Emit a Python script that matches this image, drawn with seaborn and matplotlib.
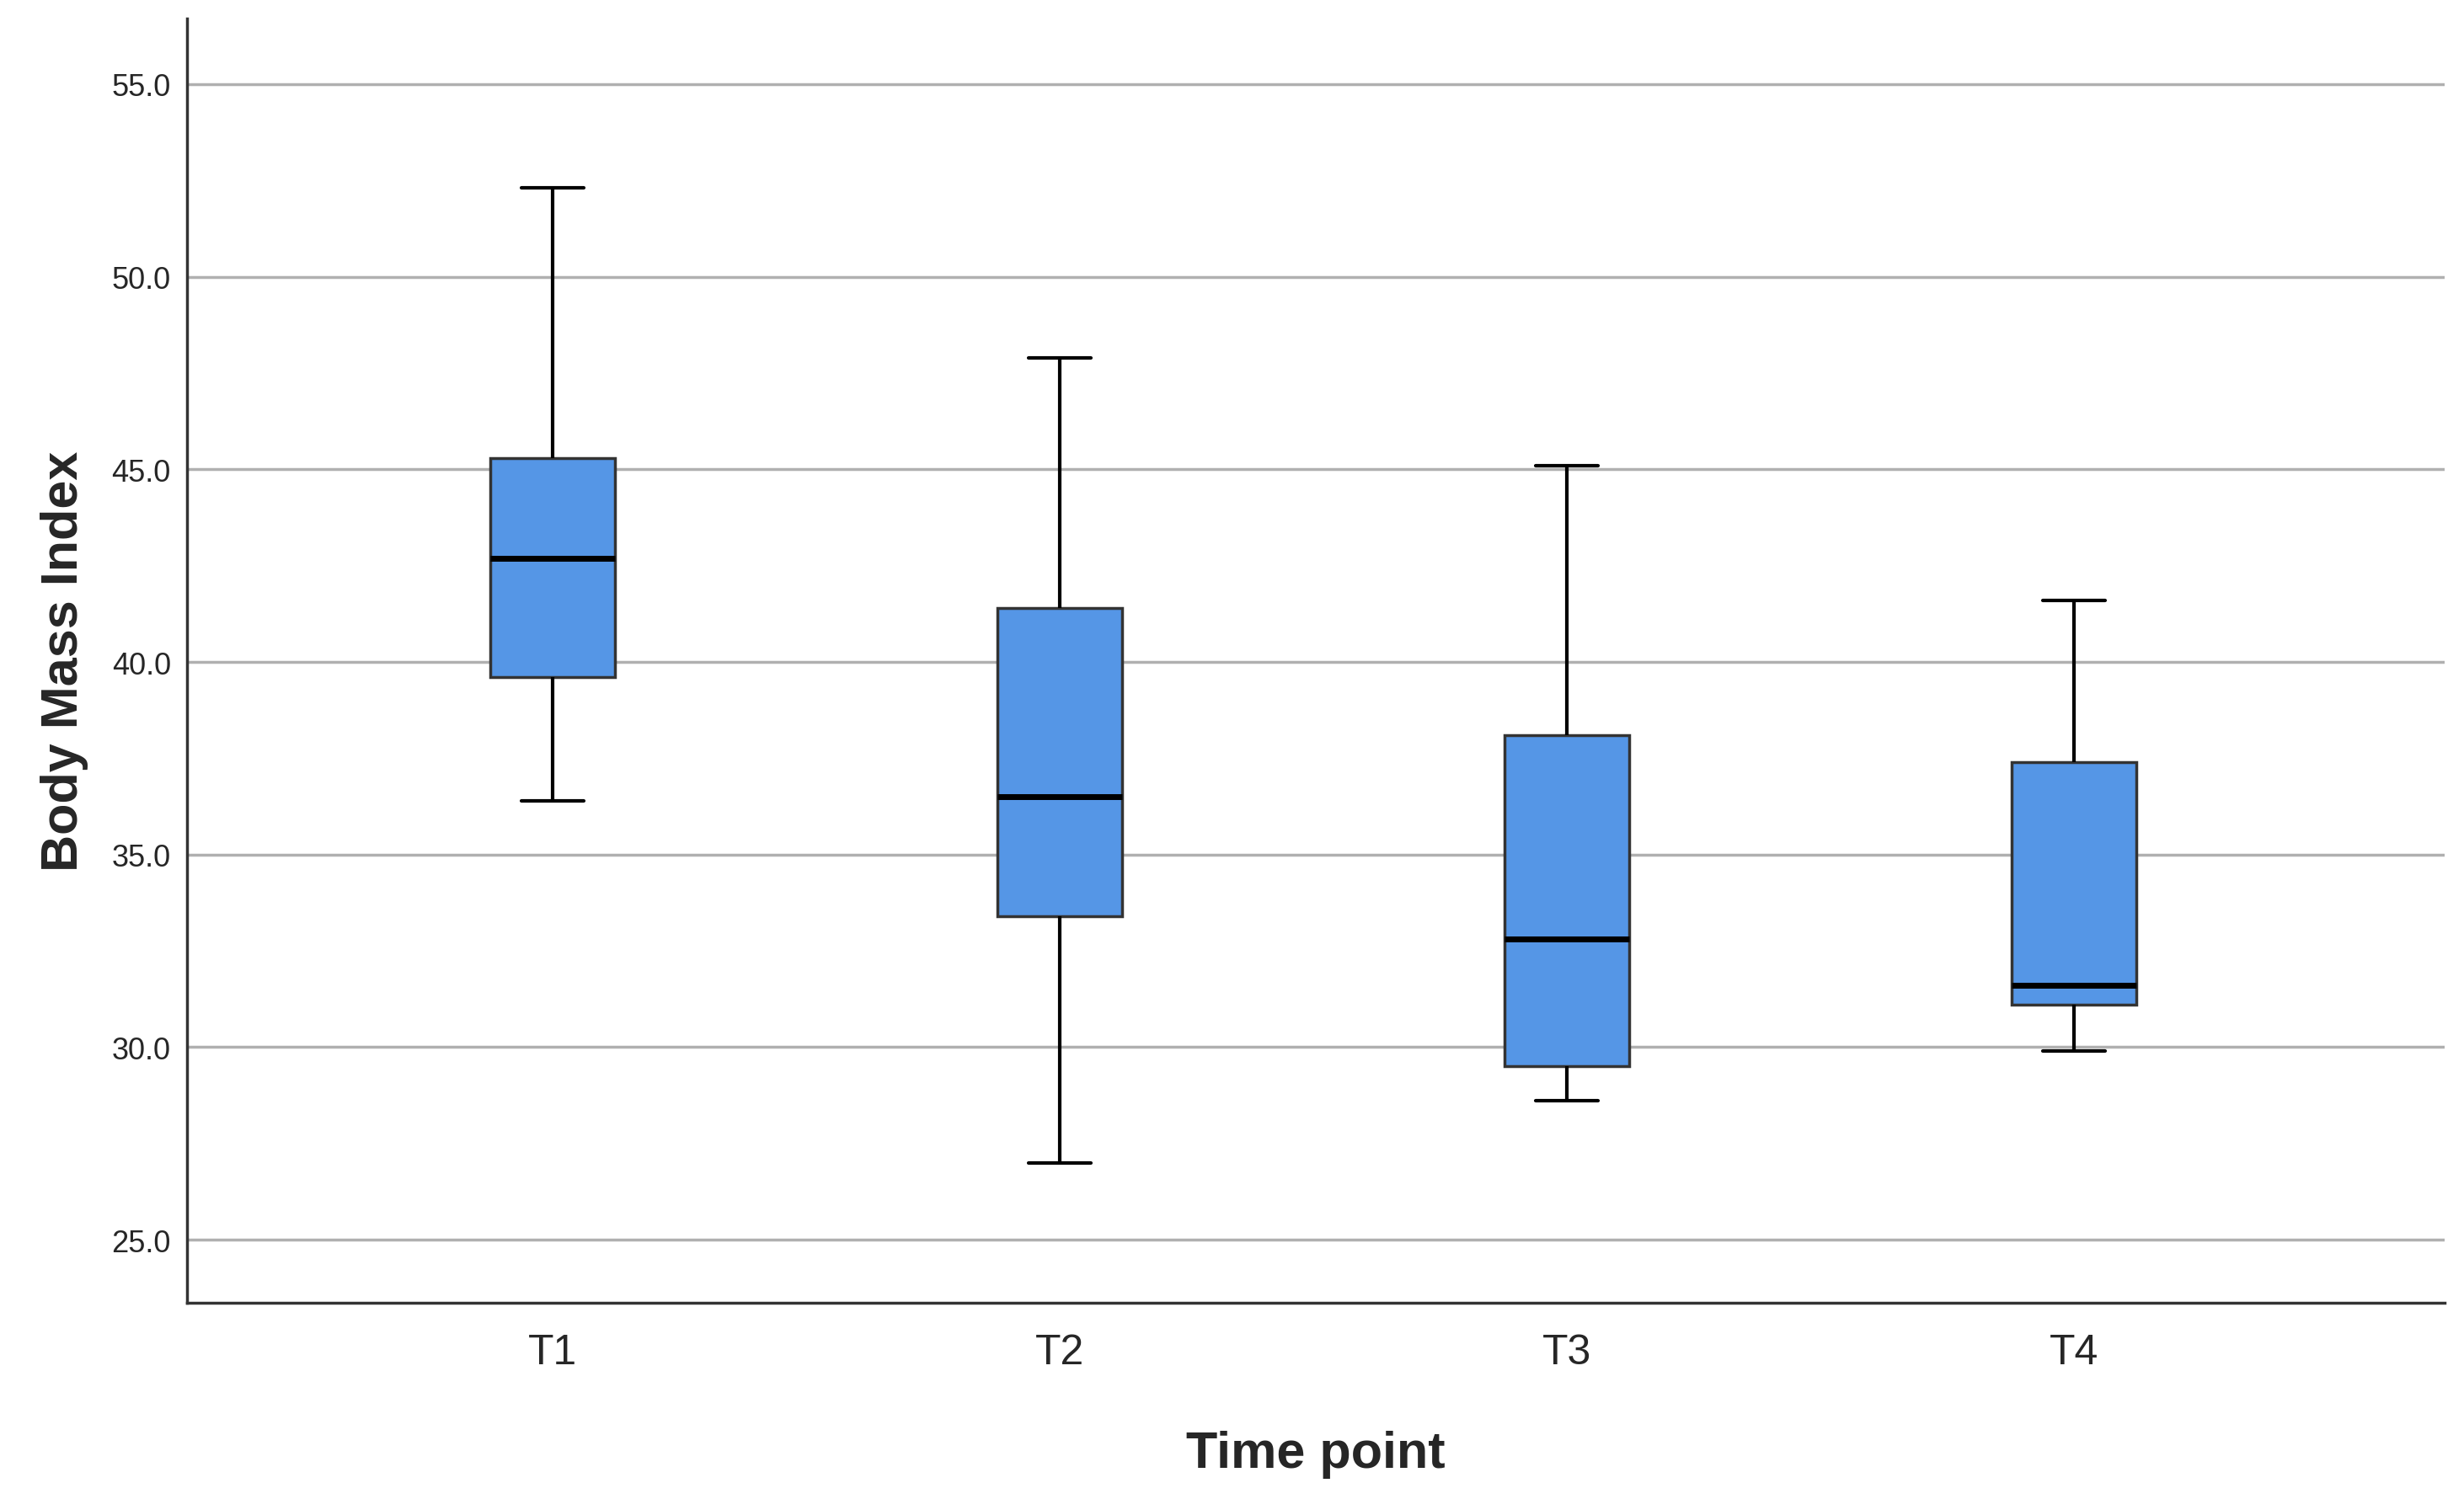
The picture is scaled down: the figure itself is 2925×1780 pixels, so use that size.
import numpy as np
import pandas as pd
import matplotlib
matplotlib.use("Agg")
import matplotlib.pyplot as plt
import seaborn as sns
from matplotlib.ticker import FormatStrFormatter

# five-number summaries
time_points = ["T1", "T2", "T3", "T4"]
bmi_min = [36.4, 27.0, 28.6, 29.9]
bmi_q1 = [39.6, 33.4, 29.5, 31.1]
bmi_median = [42.7, 36.5, 32.8, 31.6]
bmi_q3 = [45.3, 41.4, 38.1, 37.4]
bmi_max = [52.3, 47.9, 45.1, 41.6]

rows = []
for i, t in enumerate(time_points):
    for v in (bmi_min[i], bmi_q1[i], bmi_median[i], bmi_q3[i], bmi_max[i]):
        rows.append({"Time point": t, "Body Mass Index": v})
df = pd.DataFrame(rows)

sns.set_theme(style="white")
plt.rcParams["font.family"] = ["Liberation Sans", "DejaVu Sans"]

fig = plt.figure(figsize=(29.25, 17.81), dpi=100)
ax = fig.add_axes([0.076, 0.131, 0.916, 0.856])

ax.yaxis.grid(True, color="#b0b0b0", lw=2.5)
ax.set_axisbelow(True)

sns.boxplot(data=df, x="Time point", y="Body Mass Index", ax=ax,
            whis=(0, 100), width=0.245, color="#5596E6", saturation=1,
            linecolor="#222222", linewidth=2.5,
            medianprops=dict(color="black", lw=5),
            whiskerprops=dict(color="black", lw=3),
            capprops=dict(color="black", lw=3),
            boxprops=dict(edgecolor="#333333", lw=2.5))

ax.set_xlim(-0.72, 3.73)
ax.set_ylim(23.37, 56.7)
ax.set_yticks([25, 30, 35, 40, 45, 50, 55])
ax.yaxis.set_major_formatter(FormatStrFormatter("%.1f"))
ax.tick_params(axis="y", labelsize=26, left=False, pad=8)
ax.tick_params(axis="x", labelsize=36, bottom=False, pad=20)
ax.set_xlabel("Time point", fontsize=44, fontweight="bold", labelpad=50)
ax.set_ylabel("Body Mass Index", fontsize=44, fontweight="bold", labelpad=20)

for s in ("top", "right"):
    ax.spines[s].set_visible(False)
for s in ("left", "bottom"):
    ax.spines[s].set_color("#333333")
    ax.spines[s].set_linewidth(2.5)

fig.savefig("out.png", dpi=100, facecolor="white")
